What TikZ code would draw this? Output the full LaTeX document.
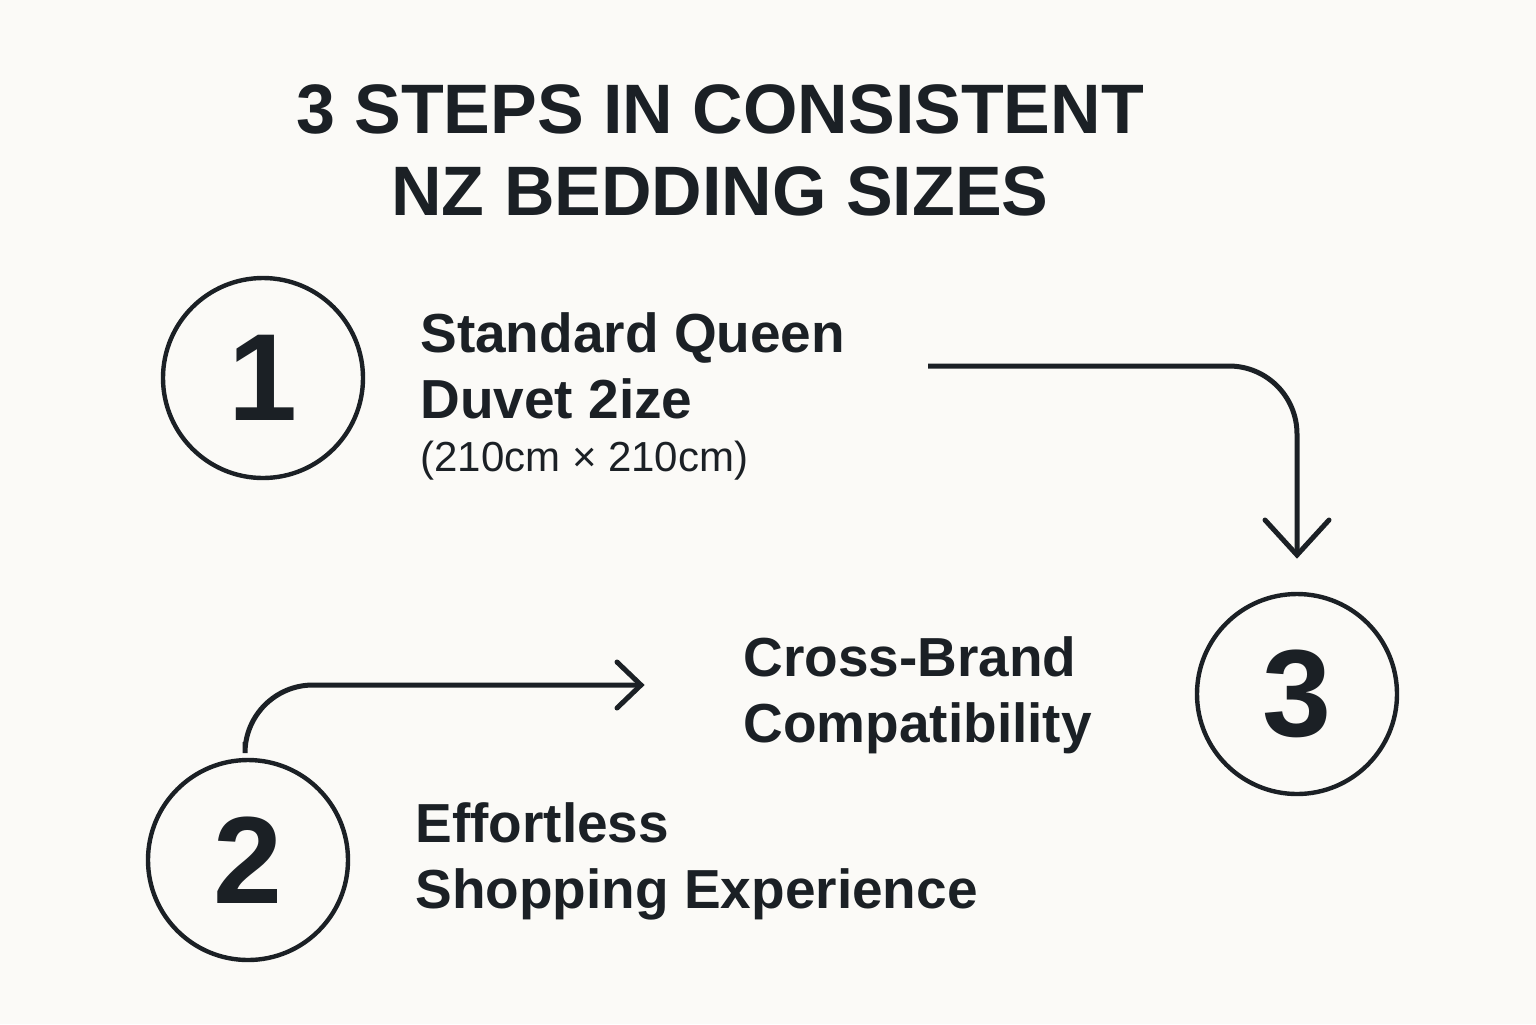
\documentclass[tikz,border=0pt]{standalone}
\usepackage{fontspec}
\setmainfont{Liberation Sans}
\definecolor{bg}{HTML}{FBFAF7}
\definecolor{ink}{HTML}{1B2025}
\begin{document}
\begin{tikzpicture}[x=0.5pt,y=-0.5pt,
  stepcircle/.style={draw=ink,line width=2.2pt,circle,minimum size=100pt,inner sep=0pt,font=\fontsize{62}{62}\selectfont\bfseries,text=ink},
  lbl/.style={anchor=west,align=left,text=ink,font=\fontsize{27.5}{33}\selectfont\bfseries,inner sep=0pt},
  conn/.style={draw=ink,line width=2.5pt,rounded corners=34pt},
  headline/.style={draw=ink,line width=2.5pt,line cap=round,line join=miter}]
\fill[bg] (0,0) rectangle (1536,1024);
\node[text=ink,font=\fontsize{35}{41}\selectfont\bfseries,align=center] (title) at (720,150) {3 STEPS IN CONSISTENT\\NZ BEDDING SIZES};
\node[stepcircle] (c1) at (263,378) {1};
\node[stepcircle] (c2) at (248,860) {2};
\node[stepcircle] (c3) at (1297,694) {3};
\node[lbl] (t1) at (420,366) {Standard Queen\\Duvet 2ize};
\node[lbl,font=\fontsize{21}{22}\selectfont] (t1b) at (420,461) {(210cm × 210cm)};
\node[lbl] (t3) at (743,695) {Cross-Brand\\Compatibility};
\node[lbl] (t2) at (415,861) {Effortless\\Shopping Experience};
\coordinate (a1s) at (928,366);
\coordinate (a1e) at (1297,555);
\draw[conn] (a1s) -- (1297,366) -- (a1e);
\draw[headline] (1265,520) -- (a1e) -- (1329,520);
\coordinate (a2s) at (245,742);
\coordinate (a2e) at (641,685);
\draw[conn] (a2s) -- (245,685) -- (a2e);
\draw[headline] (617,662) -- (a2e) -- (617,708);
\end{tikzpicture}
\end{document}
